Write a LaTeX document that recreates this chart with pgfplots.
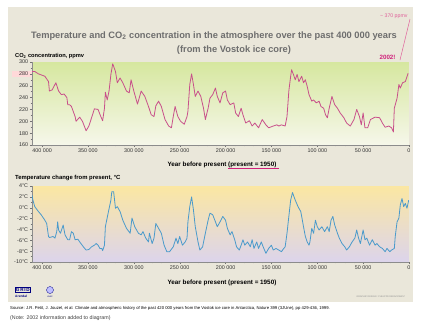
\documentclass[border=0pt]{standalone}
\usepackage{pgfplots}
\pgfplotsset{compat=1.18}
\usepackage{pgfplotstable}
\usepackage{fontspec}
\setmainfont{Liberation Sans}
\definecolor{panel}{HTML}{EAE7DA}
\definecolor{titlegrey}{HTML}{6E6E6E}
\definecolor{co2top}{HTML}{D6E79F}
\definecolor{co2bot}{HTML}{F6F7EA}
\definecolor{ttop}{HTML}{FBE7A2}
\definecolor{tmid}{HTML}{F7F3EA}
\definecolor{tbot}{HTML}{DCD4EC}
\definecolor{co2line}{HTML}{C8508A}
\definecolor{tline}{HTML}{4A9ACB}
\definecolor{pinkann}{HTML}{E0609A}
\definecolor{magann}{HTML}{D0207A}
\definecolor{ticktext}{HTML}{333333}

\pgfplotstableread{
yr val
411000 284
408000 284
404000 280
397000 276
393000 267
392000 251
389000 253
385000 265
382000 251
379000 245
376000 246
373000 240
372000 228
370000 228
368000 225
364000 208
363000 200
359000 207
356000 200
352000 184
349000 192
345000 211
343000 221
339000 220
336000 208
334000 201
332000 222
331000 249
329000 236
327000 251
325000 279
323000 297
320000 284
318000 265
315000 273
312000 265
308000 251
305000 248
303000 270
300000 251
296000 229
292000 251
288000 242
284000 225
281000 211
278000 208
276000 226
273000 234
270000 225
266000 203
262000 192
259000 189
257000 208
255000 225
252000 208
249000 200
245000 195
242000 208
241000 217
239000 262
237000 280
235000 262
233000 242
230000 251
227000 242
224000 222
222000 203
219000 222
217000 239
214000 245
211000 256
209000 242
206000 231
203000 248
200000 251
198000 236
195000 228
191000 231
189000 214
186000 208
183000 222
181000 211
178000 197
174000 201
171000 192
168000 197
164000 189
160000 203
156000 194
153000 189
148000 192
144000 194
142000 192
139000 194
135000 192
133000 208
131000 251
129000 276
128000 287
126000 279
124000 270
122000 279
120000 267
117000 276
115000 265
113000 270
111000 259
109000 245
106000 234
104000 236
101000 231
98000 234
96000 225
93000 222
91000 211
89000 206
87000 222
84000 242
81000 228
78000 222
75000 214
71000 206
68000 197
64000 192
60000 203
57000 220
54000 208
52000 194
50000 214
48000 189
45000 189
42000 203
37000 207
32000 206
29000 197
26000 190
22000 192
19000 189
17000 182
16000 222
13000 239
11000 262
9500 256
7000 265
4000 267
1000 281
}\coTwo

\pgfplotstableread{
yr val
411000 2.3
410000 1.4
408000 0.2
404000 -0.7
401000 -1.3
397000 -2.3
395000 -2.9
393000 -5.3
392000 -5.5
388000 -5.3
386000 -5.6
384000 -4.4
383000 -2.6
382000 -4.1
380000 -4.7
377000 -3.2
375000 -5.0
372000 -5.9
370000 -5.9
368000 -4.4
366000 -4.7
364000 -5.9
361000 -5.8
359000 -6.3
355000 -7.2
352000 -7.8
349000 -7.7
346000 -7.2
343000 -6.9
341000 -6.6
339000 -6.9
337000 -7.5
335000 -7.5
334000 -7.9
332000 -6.9
331000 -3.5
328000 -1.0
325000 1.4
324000 2.95
322000 2.95
320000 -0.1
318000 0.2
315000 -0.7
312000 -2.3
308000 -3.8
304000 -4.7
302000 -1.9
299000 -3.5
295000 -4.7
292000 -5.0
290000 -4.4
287000 -5.6
284000 -6.3
283000 -4.7
280000 -6.6
278000 -5.6
276000 -2.9
273000 -3.8
270000 -4.7
267000 -6.9
264000 -8.1
261000 -8.1
257000 -7.2
254000 -5.6
252000 -6.6
250000 -5.3
247000 -6.9
244000 -6.3
242000 -5.6
241000 -2.6
239000 0.2
237000 2.0
235000 -0.4
233000 -3.5
230000 -6.3
228000 -7.8
225000 -7.2
222000 -4.7
219000 -2.3
217000 -1.0
214000 -1.3
211000 -2.6
209000 -3.5
206000 -2.6
203000 -1.6
200000 -2.3
198000 -3.8
195000 -5.0
193000 -4.4
190000 -5.9
188000 -7.2
185000 -7.8
183000 -6.9
181000 -5.9
179000 -6.9
176000 -6.3
173000 -7.2
171000 -5.9
169000 -7.5
166000 -6.3
164000 -7.5
161000 -6.3
159000 -7.2
156000 -8.4
153000 -7.5
150000 -6.9
148000 -7.8
145000 -7.5
142000 -7.8
139000 -8.1
137000 -7.6
135000 -7.2
133000 -4.7
131000 -1.6
129000 1.4
127000 2.8
126000 2.3
124000 1.4
121000 0.2
118000 -0.7
117000 -1.6
115000 -3.5
113000 -5.3
111000 -6.3
109000 -6.9
108000 -6.3
106000 -3.8
104000 -4.7
102000 -2.3
100000 -3.5
98000 -4.1
95000 -3.5
92000 -4.4
89000 -3.5
87000 -4.4
85000 -2.3
83000 -1.6
81000 -3.2
78000 -4.7
76000 -5.6
73000 -6.6
70000 -7.2
68000 -7.8
65000 -7.2
62000 -6.3
59000 -5.6
57000 -4.1
55000 -5.6
53000 -6.6
50000 -4.1
48000 -5.9
46000 -5.6
43000 -6.9
40000 -5.9
37000 -6.9
35000 -6.6
32000 -7.2
29000 -7.5
26000 -8.1
24000 -7.5
21000 -8.1
19000 -7.8
16000 -7.5
15000 -5.3
13000 -2.6
11000 -1.9
9500 0.5
7600 1.7
5800 0.2
4000 0.8
2200 -0.1
300 1.4
}\tempData

\pgfplotsset{
  vostok/.style={
    scale only axis,
    width=377pt,
    xmin=-411000, xmax=0,
    axis x line*=bottom, axis y line*=left,
    axis line style={black!45, line width=0.4pt},
    tick style={black!55, line width=0.35pt},
    major tick length=2.2pt, minor tick length=1.3pt,
    tick align=outside,
    scaled x ticks=false, scaled y ticks=false,
    xtick={-400000,-350000,-300000,-250000,-200000,-150000,-100000,-50000,0},
    xticklabels={400 000,350 000,300 000,250 000,200 000,150 000,100 000,50 000,0},
    minor x tick num=4,
    minor y tick num=1,
    ticklabel style={font=\fontsize{5.4}{6}\selectfont, text=ticktext},
    xticklabel style={inner sep=1pt},
    yticklabel style={inner sep=1.5pt},
    /pgf/number format/assume math mode=true,
    clip=true,
  }
}

\begin{document}
\begin{tikzpicture}
\useasboundingbox (0,0) rectangle (424pt,-325pt);
\fill[white] (0,0) rectangle (424pt,-325pt);
\fill[panel] (8pt,-7pt) rectangle (413pt,-302pt);

% highlight of 280 label
\fill[pink!60] (12pt,-71pt) rectangle (32pt,-77pt);

% titles
\node[text=titlegrey, font=\bfseries\fontsize{9.3}{11}\selectfont, anchor=base] at (214pt,-38pt)
  {Temperature and CO\textsubscript{2} concentration in the atmosphere over the past 400 000 years};
\node[text=titlegrey, font=\bfseries\fontsize{9.3}{11}\selectfont, anchor=base] at (234pt,-52pt)
  {(from the Vostok ice core)};

\node[text=pinkann, font=\fontsize{5.2}{6}\selectfont, anchor=base east] at (411pt,-17pt) {\textasciitilde\ 370 ppmv};
\draw[pinkann, line width=0.5pt] (400pt,-60pt) -- (410pt,-19pt);
\node[text=magann, font=\bfseries\fontsize{6.2}{7}\selectfont, anchor=base east] at (399pt,-59pt) {2002!};

\node[font=\bfseries\fontsize{5.7}{6}\selectfont, anchor=base west, inner sep=0pt] at (15pt,-57pt) {CO\textsubscript{2} concentration, ppmv};

% CO2 axis
\begin{axis}[vostok, at={(32pt,-145pt)}, anchor=south west, height=83pt,
  ymin=160, ymax=300, ytick={160,180,...,300},
  axis background/.style={top color=co2top, bottom color=co2bot}]
\addplot[co2line, line width=0.8pt, line join=round] table[x expr={-\thisrow{yr}}, y=val] {\coTwo};
\end{axis}

\node[font=\bfseries\fontsize{6.3}{7}\selectfont, anchor=base] at (222pt,-166pt) {Year before present (present = 1950)};
\draw[magann, line width=0.6pt] (228pt,-168.5pt) -- (279pt,-168.5pt);

\node[font=\bfseries\fontsize{5.9}{6}\selectfont, anchor=base west, inner sep=0pt] at (15pt,-179pt) {Temperature change from present, °C};

% Temperature axis
\begin{axis}[vostok, at={(32pt,-262pt)}, anchor=south west, height=76pt,
  ymin=-10, ymax=4, ytick={-10,-8,...,4},
  yticklabels={-10°C,-8°C,-6°C,-4°C,-2°C,0°C,2°C,4°C},
  axis background/.style={top color=ttop, middle color=tmid, bottom color=tbot}]
\addplot[tline, line width=0.8pt, line join=round] table[x expr={-\thisrow{yr}}, y=val] {\tempData};
\end{axis}

\node[font=\bfseries\fontsize{6.3}{7}\selectfont, anchor=base] at (222pt,-284pt) {Year before present (present = 1950)};

% logo
\node[draw=blue!50!black, line width=0.3pt, text=blue!50!black, font=\bfseries\fontsize{4.6}{5}\selectfont, inner sep=0.8pt, anchor=west] at (15pt,-290pt) {G\,R\,I\,D};
\node[text=blue!50!black, font=\bfseries\fontsize{3.2}{4}\selectfont, anchor=west, inner sep=0pt] at (15pt,-296pt) {Arendal};
\draw[blue!50!black, fill=blue!25, line width=0.3pt] (50pt,-290pt) circle (3.5pt);
\node[text=blue!50!black, font=\fontsize{2}{2}\selectfont, inner sep=0pt] at (50pt,-296.5pt) {UNEP};

\node[text=black!45, font=\fontsize{2.3}{3}\selectfont, anchor=east, inner sep=0pt] at (405pt,-297pt) {GRAPHIC DESIGN : PHILIPPE REKACEWICZ};

\node[font=\fontsize{4.2}{5}\selectfont, anchor=base west, inner sep=0pt] at (10pt,-309pt)
  {Source: J.R. Petit, J. Jouzel, et al. Climate and atmospheric history of the past 420 000 years from the Vostok ice core in Antarctica, Nature 399 (3JUne), pp 429-436, 1999.};
\node[text=black!75, font=\fontsize{5.3}{6}\selectfont, anchor=base west, inner sep=0pt] at (10pt,-319pt)
  {(Note: 2002 information added to diagram)};
\end{tikzpicture}
\end{document}
